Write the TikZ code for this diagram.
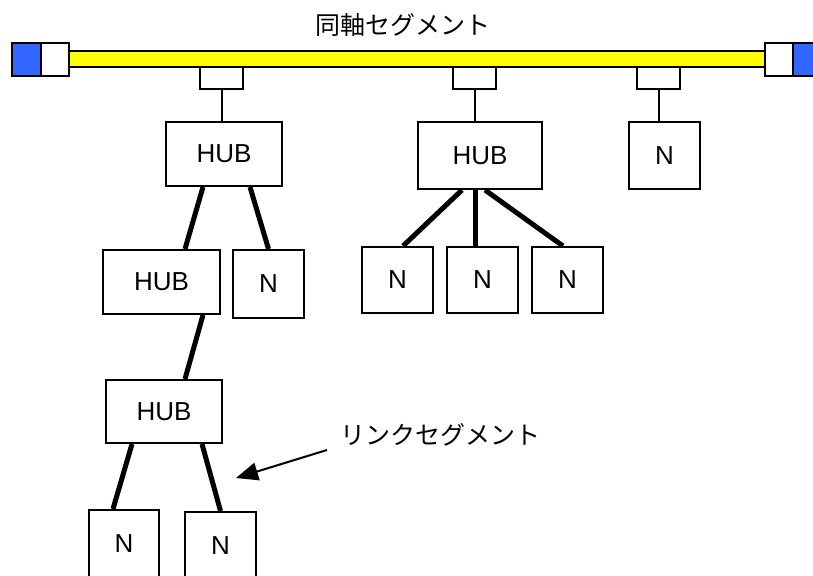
\documentclass[tikz,border=0pt]{standalone}
\usepackage{fontspec}
\setmainfont{Liberation Sans}
\newfontfamily\jpfont{Noto Sans CJK JP}
\usetikzlibrary{arrows.meta}
\definecolor{CoaxYellow}{HTML}{FFFF00}
\definecolor{TermBlue}{HTML}{3366FF}

\begin{document}
\begin{tikzpicture}[x=1pt, y=-1pt, font=\fontsize{26}{30}\selectfont,
  unit/.style={draw, line width=2pt, fill=white, inner sep=0pt, minimum width=71pt, minimum height=67pt},
  hub/.style={unit, minimum width=116pt, minimum height=64pt},
  tap/.style={unit, minimum width=43pt, minimum height=22pt},
  term/.style={draw, line width=2pt, inner sep=0pt, minimum width=28pt, minimum height=33pt},
  stem/.style={line width=2pt},
  link/.style={line width=5pt},
  jp/.style={font=\jpfont\fontsize{25}{30}\selectfont}]
\useasboundingbox (0,0) rectangle (813,575);
\clip (0,0) rectangle (813,575);

\node[jp] (coaxlbl) at (403,25) {同軸セグメント};
\node[draw, line width=2pt, fill=CoaxYellow, inner sep=0pt, minimum width=696pt, minimum height=16pt] (coax) at (417,59) {};
\node[term, fill=TermBlue, minimum width=29pt] (ltermb) at (26.5,59.5) {};
\node[term, fill=white] (ltermw) at (55,59.5) {};
\node[term, fill=white] (rtermw) at (779,59.5) {};
\node[term, fill=TermBlue, minimum width=29pt] (rtermb) at (807.5,59.5) {};

\node[tap] (tap1) at (221.5,78) {};
\node[tap] (tap2) at (474.5,78) {};
\node[tap] (tap3) at (658.5,78) {};

\node[hub] (hub1) at (224,154) {HUB};
\node[hub, minimum width=124pt, minimum height=67pt] (hub2) at (480,155.5) {HUB};
\node[unit] (nR) at (664.5,155.5) {N};
\draw[stem] (tap1.south) -- (tap1.south |- hub1.north);
\draw[stem] (tap2.south) -- (tap2.south |- hub2.north);
\draw[stem] (tap3.south) -- (tap3.south |- nR.north);

\node[hub, minimum width=117pt] (hubA) at (161.5,282) {HUB};
\node[unit, minimum height=68pt] (nA) at (268.5,284) {N};
\node[hub, minimum height=63pt] (hubB) at (164,411.5) {HUB};
\node[unit, minimum width=70pt, minimum height=68pt] (nB1) at (124,544) {N};
\node[unit, minimum height=68pt] (nB2) at (220.5,546) {N};

\node[unit, minimum height=66pt] (n21) at (397.5,280) {N};
\node[unit, minimum height=66pt] (n22) at (482.5,280) {N};
\node[unit, minimum height=66pt] (n23) at (567.5,280) {N};

\draw[link] ([xshift=-21pt]hub1.south) -- ([xshift=23.5pt]hubA.north);
\draw[link] ([xshift=26pt]hub1.south) -- (nA.north);
\draw[link] ([xshift=41.5pt]hubA.south) -- ([xshift=21pt]hubB.north);
\draw[link] ([xshift=-32pt]hubB.south) -- ([xshift=-11pt]nB1.north);
\draw[link] ([xshift=38pt]hubB.south) -- (nB2.north);
\draw[link] ([xshift=-18pt]hub2.south) -- ([xshift=5.5pt]n21.north);
\draw[link] ([xshift=-5pt]hub2.south) -- ([xshift=-7.5pt]n22.north);
\draw[link] ([xshift=5pt]hub2.south) -- ([xshift=-4.5pt]n23.north);

\node[jp, anchor=west, inner sep=0pt] (linklbl) at (340,435) {リンクセグメント};
\coordinate (linktip) at (236,478);
\draw[line width=2pt, -{Triangle[length=22pt, width=18pt]}] ([shift={(-13,15)}]linklbl.west) -- (linktip);
\end{tikzpicture}
\end{document}
